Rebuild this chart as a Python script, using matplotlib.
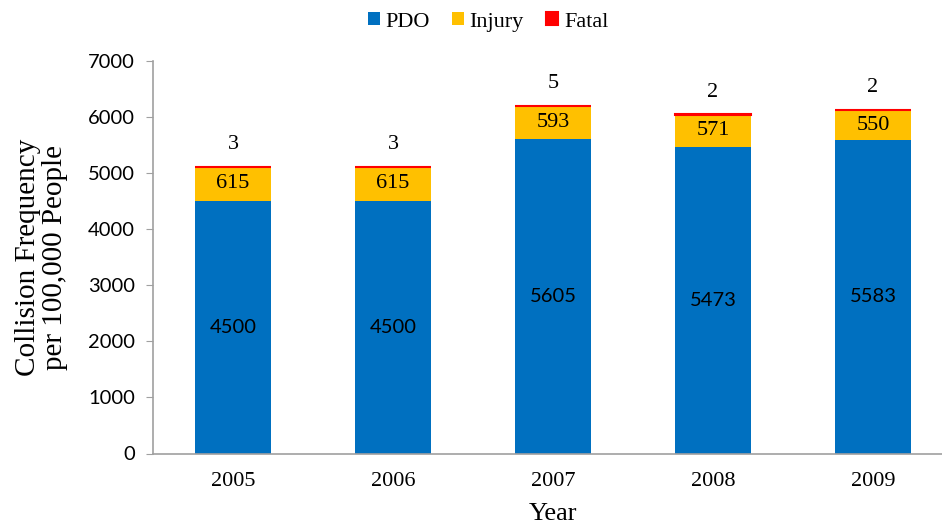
import matplotlib.pyplot as plt
import numpy as np

years = ['2005', '2006', '2007', '2008', '2009']
pdo = [4500, 4500, 5605, 5473, 5583]
injury = [615, 615, 593, 571, 550]
fatal = [3, 3, 5, 2, 2]

plt.rcParams['font.family'] = ['Liberation Serif', 'DejaVu Serif']
SANS = ['Lato', 'DejaVu Sans']

fig = plt.figure(figsize=(9.42, 5.27), dpi=100)
ax = fig.add_axes([153 / 942, 73.5 / 527, 800 / 942, 392.5 / 527])

x = np.arange(len(years))
w = 0.47
pdo_c, inj_c, fat_c = '#0070C0', '#FFC000', '#FF0000'

b1 = ax.bar(x, pdo, w, color=pdo_c, label='PDO')
b2 = ax.bar(x, injury, w, bottom=pdo, color=inj_c, label='Injury')
base2 = np.array(pdo) + np.array(injury)
b3 = ax.bar(x, fatal, w, bottom=base2, color=fat_c, edgecolor=fat_c,
            linewidth=1.5, label='Fatal')

for i in range(len(years)):
    ax.text(x[i], pdo[i] / 2, str(pdo[i]), ha='center', va='center',
            fontsize=14.5, family=SANS)
    ax.text(x[i], pdo[i] + injury[i] / 2, str(injury[i]), ha='center',
            va='center', fontsize=16)
    ax.text(x[i], base2[i] + fatal[i] + 230, str(fatal[i]), ha='center',
            va='bottom', fontsize=16)

ax.set_xlim(-0.5, len(years) - 0.5)
ax.set_ylim(0, 7000)
ax.set_yticks(range(0, 7001, 1000))
ax.set_xticks(x)
ax.set_xticklabels(years)
ax.tick_params(axis='x', length=0, labelsize=16, pad=13)
ax.tick_params(axis='y', length=5, color='#A0A0A0', labelsize=14.5, pad=8)
for lbl in ax.get_yticklabels():
    lbl.set_family(SANS)

for s in ['top', 'right']:
    ax.spines[s].set_visible(False)
for s in ['left', 'bottom']:
    ax.spines[s].set_color('#A0A0A0')
    ax.spines[s].set_linewidth(1.2)

ax.set_xlabel('Year', fontsize=19, labelpad=9)
ax.set_ylabel('Collision Frequency\nper 100,000 People', fontsize=21,
              labelpad=14, linespacing=1.1)

fig.legend(handles=[b1, b2, b3], loc='upper center', bbox_to_anchor=(0.518, 1.015),
           ncol=3, frameon=False, fontsize=16, handlelength=0.55, handleheight=0.55,
           handletextpad=0.25, columnspacing=1.0)

plt.savefig('out.png', dpi=100)
